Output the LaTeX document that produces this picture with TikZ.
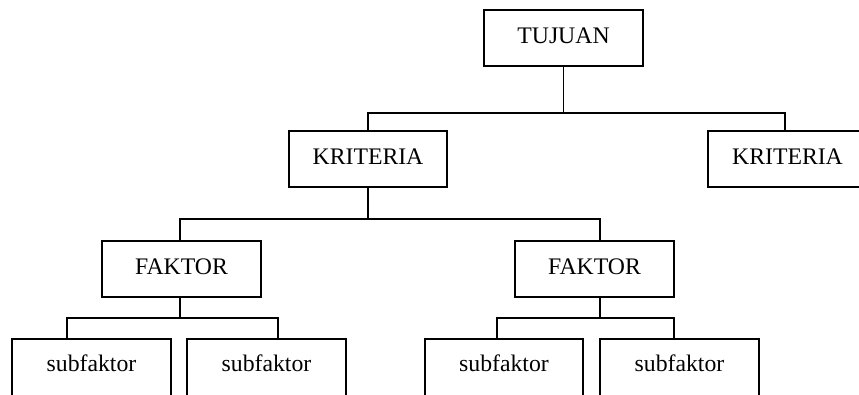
\documentclass[tikz,border=0pt]{standalone}
\usepackage{fontspec}
\usepackage{tikz}
\usetikzlibrary{calc}
\setmainfont{Liberation Serif}

\begin{document}
\begin{tikzpicture}[
    x=0.75pt, y=-0.75pt, % one unit per pixel, y going down
    line width=1.4pt, % line thickness for boxes and connectors
    box/.style={rectangle, draw, minimum width=119pt, minimum height=42pt,
        inner sep=0pt, text height=12pt, text depth=4.5pt,
        font=\fontsize{17.8pt}{20pt}\selectfont},
    subbox/.style={box, minimum height=45pt, text depth=9pt}
]
\useasboundingbox (0,0) rectangle (859,394);
\clip (0,0) rectangle (859,394);

% Define the nodes
\node[box] (T) at (563.5, 38) {TUJUAN};
\node[box] (K1) at (368, 159) {KRITERIA};
\node[box] (K2) at (787.5, 159) {KRITERIA};
\node[box] (F1) at (181.5, 269) {FAKTOR};
\node[box] (F2) at (594.5, 269) {FAKTOR};
\node[subbox] (S1) at (91.5, 369) {subfaktor};
\node[subbox] (S2) at (266.5, 369) {subfaktor};
\node[subbox] (S3) at (504, 369) {subfaktor};
\node[subbox] (S4) at (679.5, 369) {subfaktor};

% Define the connectors
\draw (T.south) -- ++(0,46) -| (K1.north);
\draw (T.south) ++(0,46) -| ($(K2.north)+(-2.5,0)$);
\draw (K1.south) -- ++(0,31) -| ($(F1.north)+(-1.5,0)$);
\draw (K1.south) ++(0,31) -| ($(F2.north)+(5.5,0)$);
\draw ($(F1.south)+(-1.5,0)$) -- ++(0,20) -| ($(S1.north)+(-24.5,0)$);
\draw ($(F1.south)+(-1.5,0)$) ++(0,20) -| ($(S2.north)+(11.5,0)$);
\draw ($(F2.south)+(5.5,0)$) -- ++(0,20) -| ($(S3.north)+(-7,0)$);
\draw ($(F2.south)+(5.5,0)$) ++(0,20) -| ($(S4.north)+(-5.5,0)$);

\end{tikzpicture}
\end{document}
